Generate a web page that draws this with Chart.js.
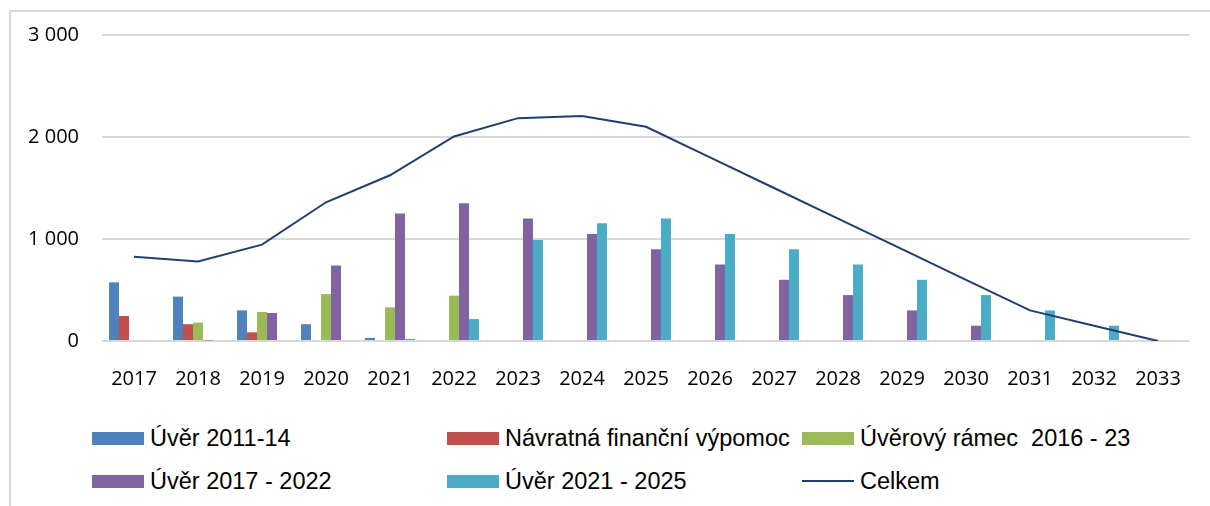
<!DOCTYPE html>
<html>
<head>
<meta charset="utf-8">
<script src="https://cdn.jsdelivr.net/npm/chart.js@4.4.1/dist/chart.umd.min.js"></script>
<style>
body { margin: 0; width: 1210px; height: 506px; overflow: hidden; background: #fff; position: relative; }
#frame { position: absolute; left: 9px; top: 10px; width: 1220px; height: 520px; border-top: 2px solid #d9d9d9; border-left: 2px solid #d9d9d9; }
#wrap { position: absolute; left: 0; top: 0; width: 1210px; height: 400px; }
#legend { position: absolute; left: 92px; top: 424px; display: grid; grid-template-columns: 355px 355px 355px; row-gap: 15px;
  font-family: "Liberation Sans", Arial, sans-serif; font-size: 23.5px; color: #000; }
.item { display: flex; align-items: center; height: 28px; white-space: pre; }
.box { width: 52px; height: 13px; margin-right: 6px; }
.ln { width: 52px; height: 2px; margin-right: 6px; }
</style>
</head>
<body>
<div id="frame"></div>
<div id="wrap"><canvas id="graph1" width="1210" height="400"></canvas></div>
<div id="legend"></div>
<script>
// roky
var roky = ["2017","2018","2019","2020","2021","2022","2023","2024","2025","2026","2027","2028","2029","2030","2031","2032","2033"];
var yTicks = [0, 1000, 2000, 3000];

var uver1114   = [575, 435, 300, 165, 30, 0, 0, 0, 0, 0, 0, 0, 0, 0, 0, 0, 0];
var navratna   = [245, 165, 85, 0, 0, 0, 0, 0, 0, 0, 0, 0, 0, 0, 0, 0, 0];
var ramec      = [10, 180, 285, 460, 330, 445, 0, 0, 0, 0, 0, 0, 0, 0, 0, 0, 0];
var uver1722   = [0, 5, 275, 740, 1250, 1350, 1200, 1050, 900, 750, 600, 450, 300, 150, 0, 0, 0];
var uver2125   = [0, 0, 0, 0, 20, 215, 990, 1155, 1200, 1050, 900, 750, 600, 450, 300, 150, 0];
var celkem     = [825, 780, 945, 1360, 1625, 2005, 2185, 2205, 2100, 1800, 1500, 1200, 900, 600, 300, 150, 0];

function mezera(v) {
    return String(v).replace(/\B(?=(\d{3})+(?!\d))/g, " ");
}

function sloupec(label, data, color) {
    return {
        type: 'bar',
        label: label,
        data: data,
        backgroundColor: color,
        borderWidth: 0,
        categoryPercentage: 0.78,
        barPercentage: 1
    };
}

let graph1 = document.getElementById('graph1').getContext('2d');
const myChart = new Chart(graph1, {
    type: 'bar',
    data: {
        labels: roky,
        datasets: [
            sloupec("Úvěr 2011-14", uver1114, '#4F81BD'),
            sloupec("Návratná finanční výpomoc", navratna, '#C0504D'),
            sloupec("Úvěrový rámec  2016 - 23", ramec, '#9BBB59'),
            sloupec("Úvěr 2017 - 2022", uver1722, '#8064A2'),
            sloupec("Úvěr 2021 - 2025", uver2125, '#4BACC6'),
            {
                type: 'line',
                label: "Celkem",
                data: celkem,
                borderColor: '#1F3F6E',
                backgroundColor: '#1F3F6E',
                borderWidth: 2,
                pointRadius: 0,
                tension: 0,
                order: -1
            }
        ]
    },
    options: {
        responsive: false,
        animation: false,
        devicePixelRatio: 1,
        layout: { padding: { left: 0, right: 20, top: 34, bottom: 0 } },
        plugins: {
            legend: { display: false },
            tooltip: { enabled: false }
        },
        scales: {
            x: {
                grid: { display: false },
                border: { display: false },
                ticks: {
                    color: '#000',
                    padding: 18,
                    maxRotation: 0,
                    font: { family: "'Open Sans', sans-serif", size: 20 }
                },
                afterFit: function (scale) { scale.height = 59; }
            },
            y: {
                min: 0,
                max: 3000,
                afterBuildTicks: function (scale) {
                    scale.ticks = yTicks.map(function (v) { return { value: v }; });
                },
                grid: { color: '#d9d9d9', lineWidth: 2, drawTicks: false },
                border: { display: false },
                ticks: {
                    color: '#000',
                    padding: 23,
                    callback: function (v) { return mezera(v); },
                    font: { family: "'Open Sans', sans-serif", size: 20 }
                },
                afterFit: function (scale) { scale.width = 102; }
            }
        }
    }
});

// legenda
var legend = document.getElementById('legend');
myChart.data.datasets.forEach(function (ds) {
    var item = document.createElement('div');
    item.className = 'item';
    var mark = document.createElement('span');
    mark.className = ds.type === 'line' ? 'ln' : 'box';
    mark.style.background = ds.type === 'line' ? ds.borderColor : ds.backgroundColor;
    var txt = document.createElement('span');
    txt.textContent = ds.label;
    item.appendChild(mark);
    item.appendChild(txt);
    legend.appendChild(item);
});
</script>
</body>
</html>
